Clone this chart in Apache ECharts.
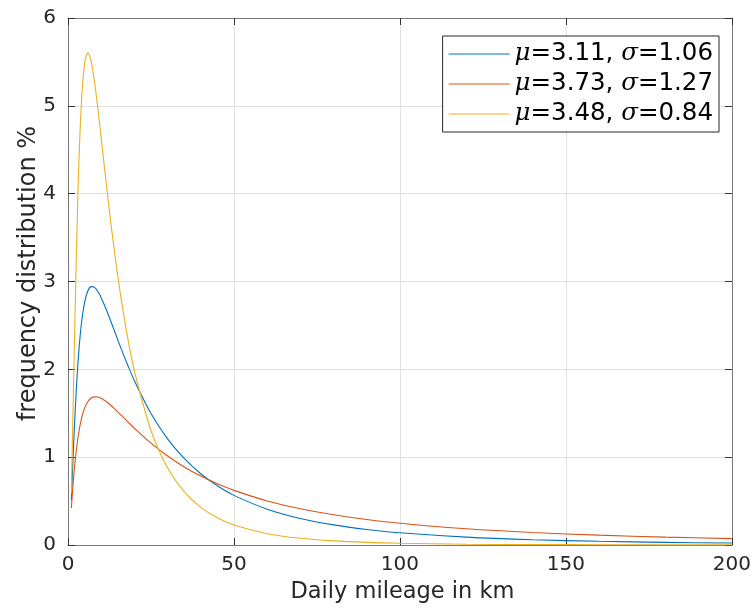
<!DOCTYPE html>
<html>
<head>
<meta charset="utf-8">
<script src="https://cdn.jsdelivr.net/npm/echarts@6/dist/echarts.min.js"></script>
<style>
html,body{margin:0;padding:0;background:#fff;}
#chart{width:754px;height:609px;}
</style>
</head>
<body>
<div id="chart"></div>
<script>
// Daily mileage (km) sample positions
const mileage = [1,2,3,4,5,6,7,8,9,10,12,14,16,18,20,25,30,35,40,45,50,60,70,80,90,100,120,140,160,180,200];
// frequency distribution %
const blueVals   = [0.508,1.398,2.072,2.508,2.763,2.895,2.942,2.933,2.886,2.816,2.636,2.436,2.236,2.047,1.871,1.497,1.208,0.985,0.811,0.674,0.565,0.408,0.302,0.229,0.177,0.139,0.090,0.060,0.042,0.030,0.022];
const redVals    = [0.421,0.900,1.224,1.431,1.559,1.634,1.673,1.687,1.685,1.671,1.619,1.552,1.478,1.403,1.329,1.159,1.013,0.889,0.785,0.697,0.622,0.502,0.413,0.344,0.291,0.248,0.185,0.142,0.112,0.090,0.073];
const yellowVals = [0.587,2.410,4.015,5.008,5.482,5.603,5.500,5.268,4.966,4.632,3.957,3.339,2.805,2.355,1.981,1.304,0.879,0.607,0.429,0.309,0.227,0.128,0.076,0.047,0.030,0.020,0.009,0.005,0.003,0.0015,0.001];
const seriesNames = ['μ=3.11, σ=1.06', 'μ=3.73, σ=1.27', 'μ=3.48, σ=0.84'];
const seriesColors = ['#0072BD', '#D95319', '#EDB120'];
const xTicks = [0, 50, 100, 150, 200];
const yTicks = [0, 1, 2, 3, 4, 5, 6];

const allVals = [blueVals, redVals, yellowVals];
const FONT = 'DejaVu Sans';
const TXT = '#262626';

function pairs(vals){ return mileage.map((x,i)=>[x, vals[i]]); }

const chart = echarts.init(document.getElementById('chart'), null, {renderer:'canvas'});
const axisLineStyle = {color:'#7a7a7a', width:1};
const tickStyle = {color:'#333333', width:1};

const option = {
  animation: false,
  backgroundColor: '#ffffff',
  grid: {left: 68, right: 17, top: 18, bottom: 63, containLabel: false},
  legend: {
    orient: 'vertical',
    right: 35, top: 36,
    padding: [3, 6, 3, 6],
    itemGap: 0,
    itemWidth: 61, itemHeight: 1.2,
    icon: 'rect',
    backgroundColor: '#ffffff',
    borderColor: '#262626', borderWidth: 1,
    data: seriesNames,
    formatter: function(n){ return n.replace('μ','{i|μ}').replace('σ','{i|σ}'); },
    textStyle: {
      fontFamily: FONT, fontSize: 24.5, color: '#000', lineHeight: 30,
      rich: { i: {fontFamily: 'DejaVu Serif', fontStyle: 'italic', fontSize: 24.5, color:'#000', lineHeight:30} }
    }
  },
  xAxis: [{
    type: 'value', min: xTicks[0], max: xTicks[xTicks.length-1], interval: 50,
    name: 'Daily mileage in km', nameLocation: 'middle', nameGap: 36, nameMoveOverlap: false,
    nameTextStyle: {fontFamily: FONT, fontSize: 22.5, color: TXT, padding: [0, 0, 0, 5]},
    axisLine: {show: true, onZero: false, lineStyle: axisLineStyle},
    axisTick: {show: true, inside: true, length: 7, lineStyle: tickStyle},
    axisLabel: {fontFamily: FONT, fontSize: 20, color: TXT, margin: 10},
    splitLine: {show: true, lineStyle: {color: '#e2e2e2', width: 1}}
  },{
    type: 'value', position: 'top', min: xTicks[0], max: xTicks[xTicks.length-1], interval: 50,
    axisLine: {show: true, onZero: false, lineStyle: axisLineStyle},
    axisTick: {show: true, inside: true, length: 7, lineStyle: tickStyle},
    axisLabel: {show: false}, splitLine: {show: false}
  }],
  yAxis: [{
    type: 'value', min: yTicks[0], max: yTicks[yTicks.length-1], interval: 1,
    name: 'frequency distribution %', nameLocation: 'middle', nameGap: 27, nameRotate: 90, nameMoveOverlap: false,
    nameTextStyle: {fontFamily: FONT, fontSize: 24, color: TXT, padding: [0, 0, 0, 16]},
    axisLine: {show: true, onZero: false, lineStyle: axisLineStyle},
    axisTick: {show: true, inside: true, length: 7, lineStyle: tickStyle},
    axisLabel: {fontFamily: FONT, fontSize: 20, color: TXT, margin: 12},
    splitLine: {show: true, lineStyle: {color: '#e2e2e2', width: 1}}
  },{
    type: 'value', position: 'right', min: yTicks[0], max: yTicks[yTicks.length-1], interval: 1,
    axisLine: {show: true, onZero: false, lineStyle: axisLineStyle},
    axisTick: {show: true, inside: true, length: 7, lineStyle: tickStyle},
    axisLabel: {show: false}, splitLine: {show: false}
  }],
  series: allVals.map((vals, i) => ({
    name: seriesNames[i],
    type: 'line',
    data: pairs(vals),
    symbol: 'none',
    smooth: 0.3,
    clip: true,
    lineStyle: {color: seriesColors[i], width: 1.1},
    itemStyle: {color: seriesColors[i]},
    z: 3 + i
  }))
};
chart.setOption(option);
</script>
</body>
</html>
